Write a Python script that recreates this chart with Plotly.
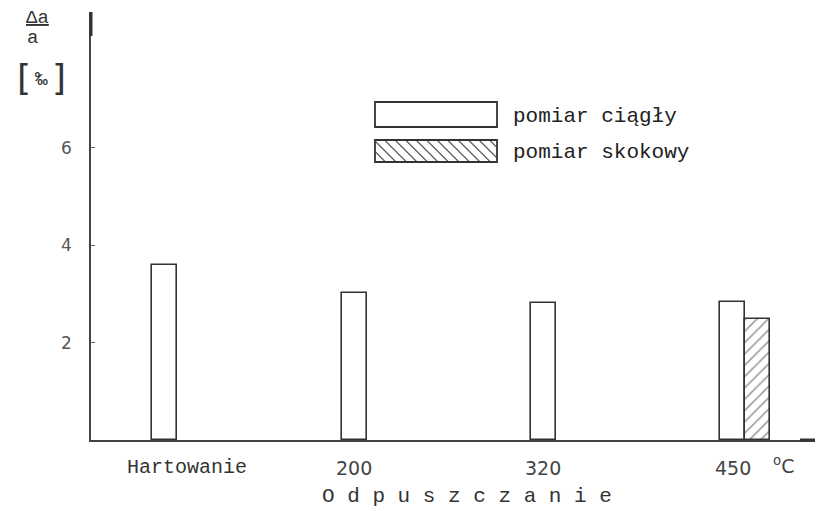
import plotly.graph_objects as go

# ---- data ----
categories = ["Hartowanie", "200", "320", "450"]
ciagly = [3.60, 3.02, 2.81, 2.83]          # pomiar ciągły
skokowy_cat = ["450"]
skokowy = [2.48]                            # pomiar skokowy
y_ticks = [2, 4, 6]
series_names = ["pomiar ciągły", "pomiar skokowy"]

# ---- geometry helpers (plot area in pixels) ----
L, R, T, B = 91, 815, 12, 440
W, H = 818, 511
def px(x):
    return (x - L) / (R - L)
def py(y):
    return (B - y) / (B - T)

EDGE = "#333333"
MONO = "Liberation Mono"
SANS = "DejaVu Sans"
BW = 0.132

fig = go.Figure()
fig.add_trace(go.Bar(
    x=categories, y=ciagly, name=series_names[0], width=BW,
    marker=dict(color="white", line=dict(color=EDGE, width=1.6)),
    showlegend=False))
fig.add_trace(go.Bar(
    x=skokowy_cat, y=skokowy, name=series_names[1], width=BW, offset=BW / 2,
    marker=dict(color="white", line=dict(color=EDGE, width=1.6),
                pattern=dict(shape="/", fgcolor="#444444", bgcolor="white",
                             size=8, solidity=0.22)),
    showlegend=False))

shapes = []
annotations = []

# legend boxes (drawn manually)
lx0, lx1 = 375, 497
b1 = (102, 127)
b2 = (140, 162)
shapes.append(dict(type="rect", xref="paper", yref="paper",
                   x0=px(lx0), x1=px(lx1), y0=py(b1[1]), y1=py(b1[0]),
                   line=dict(color=EDGE, width=1.8), fillcolor="white"))
# hatch lines "\" inside box 2
top, bot = b2
h = bot - top
s = lx0 - h
while s < lx1:
    xa, ya = s, top
    xb, yb = s + h, bot
    if xa < lx0:
        ya = top + (lx0 - xa)
        xa = lx0
    if xb > lx1:
        yb = bot - (xb - lx1)
        xb = lx1
    if xb > xa:
        shapes.append(dict(type="line", xref="paper", yref="paper",
                           x0=px(xa), y0=py(ya), x1=px(xb), y1=py(yb),
                           line=dict(color="#555555", width=1.1)))
    s += 10.5
shapes.append(dict(type="rect", xref="paper", yref="paper",
                   x0=px(lx0), x1=px(lx1), y0=py(b2[1]), y1=py(b2[0]),
                   line=dict(color=EDGE, width=1.8)))
annotations.append(dict(text=series_names[0], xref="paper", yref="paper",
                        x=px(511), y=py(116), xanchor="left", yanchor="middle",
                        showarrow=False, font=dict(family=MONO, size=21, color="#222")))
annotations.append(dict(text=series_names[1], xref="paper", yref="paper",
                        x=px(511), y=py(152), xanchor="left", yanchor="middle",
                        showarrow=False, font=dict(family=MONO, size=21, color="#222")))

# thicker axis ends
shapes.append(dict(type="line", xref="paper", yref="paper",
                   x0=0, x1=0, y0=py(36), y1=1, line=dict(color="#333", width=3)))
shapes.append(dict(type="line", xref="paper", yref="paper",
                   x0=px(800), x1=1, y0=0, y1=0, line=dict(color="#333", width=3)))

# x category labels (category axis: position by index)
for i, c in enumerate(categories):
    if c == "Hartowanie":
        annotations.append(dict(text=c, x=i, xref="x", yref="paper", y=py(468),
                                xshift=22, showarrow=False, yanchor="middle",
                                font=dict(family=MONO, size=20, color="#333")))
    else:
        annotations.append(dict(text=c, x=i, xref="x", yref="paper", y=py(468),
                                showarrow=False, yanchor="middle",
                                font=dict(family=SANS, size=19, color="#444")))
annotations.append(dict(text="<sup>o</sup>C", xref="paper", yref="paper",
                        x=px(796), y=py(465), showarrow=False, yanchor="middle",
                        font=dict(family=SANS, size=19, color="#444")))
annotations.append(dict(text="O d p u s z c z a n i e", xref="paper", yref="paper",
                        x=px(614), y=py(496), showarrow=False, yanchor="middle",
                        font=dict(family=MONO, size=21, color="#333")))

# y axis label
annotations.append(dict(text="<u>Δa</u>", xref="paper", yref="paper",
                        x=px(24), y=py(18), showarrow=False, yanchor="middle",
                        font=dict(family=MONO, size=19, color="#333")))
annotations.append(dict(text="a", xref="paper", yref="paper",
                        x=px(25), y=py(38), showarrow=False, yanchor="middle",
                        font=dict(family=MONO, size=19, color="#333")))
annotations.append(dict(text="[", xref="paper", yref="paper",
                        x=px(15), y=py(78), showarrow=False, yanchor="middle",
                        font=dict(family=SANS, size=36, color="#333")))
annotations.append(dict(text="]", xref="paper", yref="paper",
                        x=px(50), y=py(78), showarrow=False, yanchor="middle",
                        font=dict(family=SANS, size=36, color="#333")))
annotations.append(dict(text="‰", xref="paper", yref="paper",
                        x=px(33), y=py(79), showarrow=False, yanchor="middle",
                        font=dict(family=MONO, size=21, color="#333")))

fig.update_layout(
    width=W, height=H,
    margin=dict(l=L, r=W - R, t=T, b=H - B),
    paper_bgcolor="white", plot_bgcolor="white",
    barmode="overlay", bargap=0,
    shapes=shapes, annotations=annotations,
    xaxis=dict(type="category", categoryorder="array", categoryarray=categories,
               range=[-0.391, 3.436], showticklabels=False, ticks="",
               showline=True, linecolor="#444", linewidth=1.5,
               showgrid=False, zeroline=False, fixedrange=True),
    yaxis=dict(range=[0, 8.79], tickvals=y_ticks, ticktext=[str(v) for v in y_ticks],
               ticks="inside", ticklen=4, tickcolor="#666", tickwidth=1,
               ticklabelstandoff=14,
               tickfont=dict(family=SANS, size=17, color="#555"),
               showline=True, linecolor="#444", linewidth=1.5,
               showgrid=False, zeroline=False, fixedrange=True),
)

fig.write_html("out.html", config={"displayModeBar": False},
               post_script="document.body.style.margin='0';document.body.style.padding='0';")
